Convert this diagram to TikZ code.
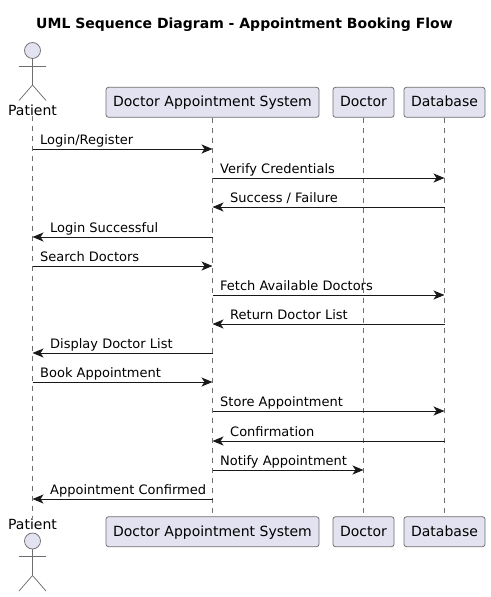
\documentclass[tikz,border=0pt]{standalone}
\usepackage{fontspec}
\setmainfont{DejaVu Sans}
\usetikzlibrary{arrows.meta}
\definecolor{partfill}{HTML}{E2E2F0}
\definecolor{partline}{HTML}{181818}
\definecolor{thinline}{HTML}{6E6E6E}

\begin{document}
\begin{tikzpicture}[
  x=1pt,y=-1pt,
  part/.style={draw=thinline,fill=partfill,rounded corners=2.5pt,line width=0.75pt,
    minimum height=30pt,inner sep=0pt,text height=11.8pt,text depth=3pt,font=\fontsize{14}{16}\selectfont},
  life/.style={draw=thinline,line width=0.75pt,dash pattern=on 5pt off 5pt},
  stick/.style={draw=thinline,line width=0.75pt},
  msg/.style={draw=partline,line width=1pt,-{Stealth[length=11pt,width=9pt,inset=3pt]}},
  msgtext/.style={anchor=base west,inner sep=0pt,font=\fontsize{13}{15}\selectfont},
  actortext/.style={inner sep=0pt,font=\fontsize{14}{16}\selectfont}
  ]
  \useasboundingbox (0,0) rectangle (490,597);

  \node[inner sep=0pt,font=\fontsize{14}{16}\selectfont\bfseries] (title) at (244.5,24.5) {UML Sequence Diagram - Appointment Booking Flow};

  % participants, top and bottom
  \foreach \pos/\ypos in {top/102.3,bot/531.7} {
    \node[part,minimum width=213pt] (system\pos) at (212.5,\ypos) {Doctor Appointment System};
    \node[part,minimum width=61pt] (doctor\pos) at (363.5,\ypos) {Doctor};
    \node[part,minimum width=81pt] (database\pos) at (444.5,\ypos) {Database};
  }
  \node[actortext] (patienttop) at (32.5,110) {Patient};
  \node[actortext] (patientbot) at (32.5,524) {Patient};

  % stick figures
  \foreach \pos/\ypos in {top/50.5,bot/541} {
    \node[stick,fill=partfill,circle,minimum size=16pt,inner sep=0pt] (head\pos) at (32.5,\ypos) {};
    \coordinate (hip\pos) at (32.5,\ypos+34.5);
    \draw[stick] (head\pos) -- (hip\pos);
    \draw[stick] (19,\ypos+15.5) -- (46,\ypos+15.5);
    \draw[stick] (19,\ypos+50) -- (hip\pos) -- (46,\ypos+50);
  }

  % lifelines
  \foreach \who in {patient,system,doctor,database} {
    \draw[life] (\who top) -- (\who bot);
  }

  % messages
  \foreach \i/\ypos/\from/\to/\txtx/\txt in {
    1/149/patient/system/40/{Login/Register},
    2/178/system/database/220/Verify Credentials,
    3/207/database/system/230/{Success / Failure},
    4/237/system/patient/50/Login Successful,
    5/266/patient/system/40/Search Doctors,
    6/295/system/database/220/Fetch Available Doctors,
    7/324/database/system/230/Return Doctor List,
    8/353/system/patient/50/Display Doctor List,
    9/382/patient/system/40/Book Appointment,
    10/411/system/database/220/Store Appointment,
    11/441/database/system/230/Confirmation,
    12/470/system/doctor/220/Notify Appointment,
    13/499/system/patient/50/Appointment Confirmed} {
    \coordinate (a\i) at (\from top |- 0,\ypos);
    \coordinate (b\i) at (\to top |- 0,\ypos);
    \draw[msg] (a\i) -- (b\i);
    \node[msgtext] (label\i) at (\txtx,\ypos-4.2) {\txt};
  }
\end{tikzpicture}
\end{document}
